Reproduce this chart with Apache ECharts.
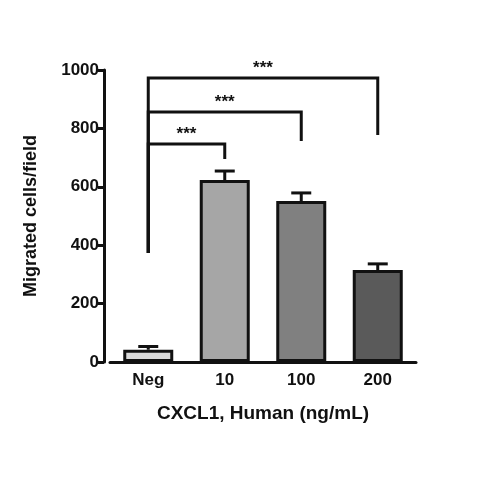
<!DOCTYPE html>
<html>
<head>
<meta charset="utf-8">
<script src="https://cdn.jsdelivr.net/npm/echarts@6/dist/echarts.min.js"></script>
<style>html,body{margin:0;background:#fff}#chart{width:480px;height:480px}</style>
</head>
<body>
<div id="chart"></div>
<script>
const categories = ['Neg', '10', '100', '200'];
const means = [42, 623, 551, 315];
const errTops = [53, 654, 579, 336];
const barColors = ['#d9d9d9', '#a6a6a6', '#808080', '#5a5a5a'];
const yTicks = [0, 200, 400, 600, 800, 1000];
// [fromIndex, toIndex, top, leftBottom, rightBottom]
const brackets = [
  [0, 3, 973, 373, 777],
  [0, 2, 856, 373, 757],
  [0, 1, 747, 373, 695]
];
const sigLabel = '***';

const chart = echarts.init(document.getElementById('chart'));
const font = 'Liberation Sans, Arial, sans-serif';
const ink = '#111';

chart.setOption({
  animation: false,
  grid: { left: 110, right: 64, top: 70, bottom: 118 },
  xAxis: {
    type: 'category', data: categories,
    name: 'CXCL1, Human (ng/mL)', nameLocation: 'middle', nameGap: 42,
    nameTextStyle: { fontFamily: font, fontWeight: 'bold', fontSize: 19, color: ink },
    axisLine: { lineStyle: { color: ink, width: 3 } },
    axisTick: { alignWithLabel: true, length: 6, lineStyle: { color: ink, width: 3 } },
    axisLabel: { fontFamily: font, fontWeight: 'bold', fontSize: 17, color: ink, margin: 10 }
  },
  yAxis: {
    type: 'value', min: 0, max: 1000, interval: 200, offset: 6,
    name: 'Migrated cells/field', nameLocation: 'middle', nameGap: 64,
    nameTextStyle: { fontFamily: font, fontWeight: 'bold', fontSize: 18, color: ink },
    axisLine: { show: true, lineStyle: { color: ink, width: 3 } },
    axisTick: { show: true, length: 6, lineStyle: { color: ink, width: 3 } },
    splitLine: { show: false },
    axisLabel: {
      fontFamily: font, fontWeight: 'bold', fontSize: 17, color: ink, margin: 5,
      formatter: v => yTicks.includes(v) ? String(v) : ''
    }
  },
  series: [
    {
      type: 'bar', barWidth: 50,
      data: means.map((v, i) => ({ value: v, itemStyle: { color: barColors[i] } })),
      itemStyle: { borderColor: ink, borderWidth: 3 }
    },
    {
      type: 'custom', z: 1,
      data: means.map((v, i) => [i, v, errTops[i]]),
      renderItem: (params, api) => {
        const lo = api.coord([api.value(0), api.value(1)]);
        const hi = api.coord([api.value(0), api.value(2)]);
        const st = { stroke: ink, lineWidth: 3 };
        return { type: 'group', children: [
          { type: 'line', shape: { x1: lo[0], y1: lo[1], x2: hi[0], y2: hi[1] }, style: st },
          { type: 'line', shape: { x1: hi[0] - 10, y1: hi[1], x2: hi[0] + 10, y2: hi[1] }, style: st }
        ] };
      }
    },
    {
      type: 'custom', z: 3,
      data: brackets,
      renderItem: (params, api) => {
        const a = api.value(0), b = api.value(1);
        const tl = api.coord([a, api.value(2)]);
        const tr = api.coord([b, api.value(2)]);
        const bl = api.coord([a, api.value(3)]);
        const br = api.coord([b, api.value(4)]);
        const st = { stroke: ink, lineWidth: 3 };
        return { type: 'group', children: [
          { type: 'polyline', shape: { points: [bl, tl, tr, br] }, style: Object.assign({ fill: null }, st) },
          { type: 'text', style: {
            x: (tl[0] + tr[0]) / 2, y: tl[1] - 1, text: sigLabel,
            fill: ink, font: 'bold 17px ' + font, align: 'center', verticalAlign: 'bottom'
          } }
        ] };
      }
    }
  ]
});
</script>
</body>
</html>
